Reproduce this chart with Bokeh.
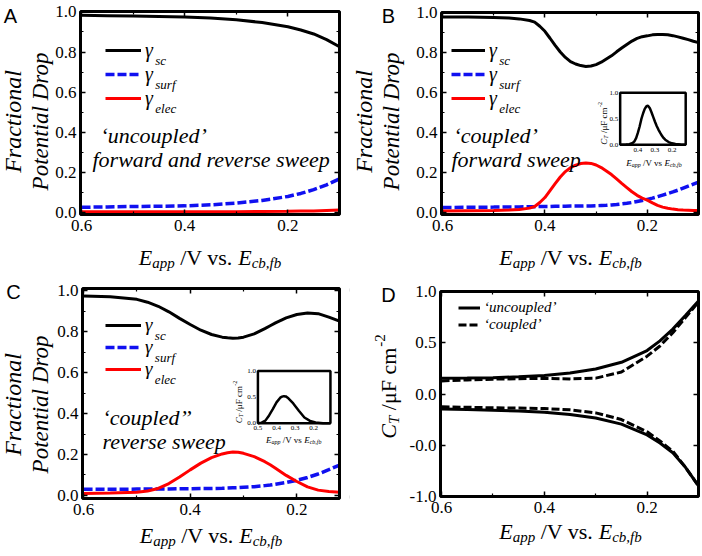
import math
from bokeh.plotting import figure
from bokeh.models import Range1d, Label, Legend, LegendItem, FixedTicker, LinearAxis, BoxAnnotation
from bokeh.layouts import row, column
from bokeh.core.properties import value
from bokeh.embed import file_html
from bokeh.resources import INLINE

SERIF = "Liberation Serif"
SANS = "Liberation Sans"
BLUE = "#1010f0"
RED = "#ff0000"

# ---------------- data ----------------
# Panel A : uncoupled
xa = [0.6, 0.55, 0.5, 0.45, 0.4, 0.35, 0.3, 0.25, 0.2, 0.175, 0.15, 0.125, 0.1]
sc_a = [0.983, 0.981, 0.979, 0.977, 0.975, 0.969, 0.961, 0.947, 0.926, 0.910, 0.890, 0.862, 0.826]
surf_a = [0.026, 0.028, 0.030, 0.031, 0.033, 0.038, 0.047, 0.060, 0.080, 0.095, 0.114, 0.138, 0.168]
elec_a = [0.004, 0.004, 0.004, 0.004, 0.004, 0.004, 0.004, 0.005, 0.006, 0.007, 0.008, 0.010, 0.012]

# Panel B : coupled forward
xb = [0.6, 0.55, 0.5, 0.47, 0.45, 0.43, 0.42, 0.41, 0.4, 0.39, 0.38, 0.37, 0.36, 0.35,
      0.34, 0.33, 0.32, 0.31, 0.3, 0.29, 0.28, 0.27, 0.26, 0.25, 0.24, 0.23, 0.22, 0.21,
      0.2, 0.19, 0.18, 0.17, 0.16, 0.15, 0.14, 0.13, 0.12, 0.11, 0.1]
sc_b = [0.980, 0.979, 0.977, 0.974, 0.970, 0.962, 0.954, 0.933, 0.908, 0.873, 0.837, 0.804,
        0.777, 0.756, 0.744, 0.736, 0.732, 0.734, 0.741, 0.753, 0.769, 0.785, 0.805, 0.824,
        0.842, 0.859, 0.872, 0.881, 0.885, 0.890, 0.892, 0.892, 0.890, 0.886, 0.880, 0.873,
        0.866, 0.858, 0.851]
elec_b = [0.008, 0.009, 0.010, 0.012, 0.015, 0.022, 0.030, 0.050, 0.075, 0.110, 0.145, 0.178,
          0.205, 0.225, 0.237, 0.245, 0.248, 0.246, 0.238, 0.225, 0.208, 0.190, 0.168, 0.146,
          0.125, 0.104, 0.086, 0.072, 0.062, 0.048, 0.036, 0.027, 0.021, 0.017, 0.014, 0.012,
          0.011, 0.010, 0.010]
surf_b = [0.025, 0.026, 0.027, 0.028, 0.028, 0.029, 0.029, 0.030, 0.030, 0.030, 0.031, 0.031,
          0.031, 0.032, 0.032, 0.032, 0.033, 0.033, 0.034, 0.035, 0.036, 0.038, 0.040, 0.043,
          0.046, 0.050, 0.055, 0.060, 0.066, 0.072, 0.079, 0.087, 0.095, 0.103, 0.112, 0.122,
          0.132, 0.142, 0.152]

# Panel C : coupled reverse
xc = [0.6, 0.55, 0.5, 0.48, 0.46, 0.44, 0.42, 0.4, 0.38, 0.36, 0.34, 0.33, 0.32, 0.31,
      0.3, 0.28, 0.26, 0.25, 0.24, 0.22, 0.2, 0.18, 0.16, 0.14, 0.12]
sc_c = [0.975, 0.972, 0.959, 0.945, 0.925, 0.898, 0.866, 0.836, 0.808, 0.787, 0.774, 0.771,
        0.769, 0.770, 0.774, 0.790, 0.816, 0.830, 0.844, 0.868, 0.885, 0.892, 0.889, 0.872,
        0.852]
elec_c = [0.010, 0.012, 0.016, 0.022, 0.034, 0.058, 0.090, 0.125, 0.158, 0.185, 0.203, 0.209,
          0.212, 0.211, 0.206, 0.190, 0.165, 0.150, 0.133, 0.098, 0.068, 0.042, 0.026, 0.019,
          0.016]
surf_c = [0.030, 0.030, 0.031, 0.031, 0.032, 0.032, 0.033, 0.033, 0.034, 0.034, 0.035, 0.036,
          0.037, 0.038, 0.040, 0.043, 0.048, 0.051, 0.055, 0.063, 0.074, 0.088, 0.105, 0.126,
          0.148]

# Panel D : total capacitance
xd = [0.6, 0.55, 0.5, 0.45, 0.4, 0.35, 0.3, 0.25, 0.2, 0.175, 0.15, 0.125, 0.1]
unc_up = [0.153, 0.156, 0.160, 0.168, 0.182, 0.205, 0.245, 0.310, 0.425, 0.520, 0.635, 0.770, 0.910]
unc_lo = [-0.148, -0.152, -0.158, -0.166, -0.178, -0.200, -0.235, -0.295, -0.400, -0.480, -0.575, -0.720, -0.900]
cou_up = [0.128, 0.138, 0.145, 0.150, 0.152, 0.148, 0.155, 0.215, 0.370, 0.470, 0.600, 0.750, 0.900]
cou_lo = [-0.125, -0.130, -0.135, -0.138, -0.142, -0.155, -0.185, -0.250, -0.370, -0.460, -0.560, -0.720, -0.900]

# Insets (C_T vs E_app)
xib = [0.5, 0.47, 0.45, 0.43, 0.42, 0.41, 0.4, 0.39, 0.38, 0.37, 0.36, 0.35, 0.345, 0.34,
       0.33, 0.32, 0.31, 0.3, 0.29, 0.28, 0.27, 0.26, 0.25, 0.24, 0.22, 0.2, 0.18, 0.15, 0.12]
yib = [0.0, 0.003, 0.010, 0.035, 0.065, 0.13, 0.23, 0.35, 0.49, 0.60, 0.69, 0.74, 0.75, 0.745,
       0.70, 0.62, 0.53, 0.44, 0.36, 0.29, 0.23, 0.175, 0.13, 0.095, 0.05, 0.025, 0.012, 0.004, 0.0]
xic = [0.5, 0.48, 0.46, 0.44, 0.42, 0.4, 0.38, 0.37, 0.36, 0.35, 0.34, 0.31, 0.28, 0.25,
       0.22, 0.19, 0.15, 0.11]
yic = [0.0, 0.012, 0.05, 0.15, 0.27, 0.40, 0.49, 0.51, 0.52, 0.515, 0.49, 0.38, 0.24, 0.11,
       0.045, 0.015, 0.0, 0.0]

# ticks
x_ticks = [0.6, 0.4, 0.2]
x_tick_labels = ["0.6", "0.4", "0.2"]
x_minor = [0.5, 0.3, 0.1]
y_ticks = [0.0, 0.2, 0.4, 0.6, 0.8, 1.0]
y_tick_labels = ["0.0", "0.2", "0.4", "0.6", "0.8", "1.0"]
y_minor = [0.1, 0.3, 0.5, 0.7, 0.9]
d_y_ticks = [-1.0, -0.5, 0.0, 0.5, 1.0]
d_y_tick_labels = ["-1.0", "-0.0", "0.0", "0.5", "1.0"]
inset_y_ticks = [0.0, 0.5, 1.0]
inset_y_labels = ["0.0", "0.5", "1.0"]
inset_b_x_ticks = [0.4, 0.3, 0.2]
inset_b_x_labels = ["0.4", "0.3", "0.2"]
inset_c_x_ticks = [0.5, 0.4, 0.3, 0.2]
inset_c_x_labels = ["0.5", "0.4", "0.3", "0.2"]

# ---------------- text helpers ----------------
W_REG = {' ': 250, '/': 278, 'V': 722, 'v': 500, 's': 389, '.': 250, 'μ': 576, 'F': 556,
         'c': 444, 'm': 778, '-': 333, '2': 500, ',': 250}
W_ITA = {'E': 611, 'a': 500, 'p': 500, 'c': 444, 'b': 500, ',': 250, 'f': 278, 'C': 667,
         'T': 556, 'γ': 440, 's': 389, 'u': 500, 'r': 389, 'e': 444, 'l': 278, ' ': 250}


def text_width(s, size, italic):
    tbl = W_ITA if italic else W_REG
    return sum(tbl.get(ch, 500) for ch in s) / 1000.0 * size


class Panel:
    """A figure whose frame fills the whole canvas; the plot box is drawn inside it."""

    def __init__(self, ox, oy, W, H, box, xr, yr, yt, ytl, ym):
        self.ox, self.oy, self.W, self.H = ox, oy, W, H
        bl, br, bt, bb = box
        ul, ur, vt, vb = bl - ox, br - ox, bt - oy, bb - oy

        def x_at(u):
            return xr[0] + (u - ul) * (xr[1] - xr[0]) / (ur - ul)

        def y_at(v):
            return yr[1] + (v - vt) * (yr[0] - yr[1]) / (vb - vt)

        self.ul, self.ur, self.vt, self.vb = ul, ur, vt, vb
        self.xr, self.yr = xr, yr
        p = figure(width=W, height=H, x_range=Range1d(x_at(0), x_at(W)),
                   y_range=Range1d(y_at(H), y_at(0)), output_backend="svg",
                   toolbar_location=None, min_border=0)
        p.grid.visible = False
        p.outline_line_color = None
        p.background_fill_color = "white"
        p.border_fill_color = "white"
        self.p = p
        bottom, left = p.xaxis[0], p.yaxis[0]
        top, right = LinearAxis(), LinearAxis()
        p.add_layout(top, "above")
        p.add_layout(right, "right")
        self.style_axis(bottom, x_ticks, x_minor, x_tick_labels, yr[0], 5)
        self.style_axis(left, yt, ym, ytl, xr[0], 4)
        self.style_axis(top, x_ticks, x_minor, None, yr[1], 4)
        self.style_axis(right, yt, ym, None, xr[1], 4)
        p.add_layout(BoxAnnotation(left=xr[0], right=xr[1], bottom=yr[0], top=yr[1],
                                   fill_color=None, fill_alpha=0, line_color="black",
                                   line_width=3, line_alpha=1))

    @staticmethod
    def style_axis(ax, ticks, minor, labels, loc, standoff):
        ax.fixed_location = loc
        ax.ticker = FixedTicker(ticks=ticks, minor_ticks=minor)
        ax.axis_line_color = None
        ax.major_tick_in = 5
        ax.major_tick_out = 0
        ax.minor_tick_in = 3
        ax.minor_tick_out = 0
        ax.major_tick_line_width = 1.5
        ax.minor_tick_line_width = 1.2
        ax.major_tick_line_color = "black"
        ax.minor_tick_line_color = "black"
        ax.major_label_text_font = SERIF
        ax.major_label_text_font_size = "17px"
        ax.major_label_text_color = "black"
        ax.major_label_standoff = standoff
        if labels is not None:
            ax.major_label_overrides = {float(t): l for t, l in zip(ticks, labels)}
        else:
            ax.major_label_overrides = {float(t): "" for t in ticks}

    def sx(self, px):
        return px - self.ox

    def sy(self, py):
        return self.H - (py - self.oy)

    def dx(self, x):
        return self.ul + (x - self.xr[0]) * (self.ur - self.ul) / (self.xr[1] - self.xr[0])

    def dy(self, y):
        return self.H - (self.vb + (y - self.yr[0]) * (self.vt - self.vb) / (self.yr[1] - self.yr[0]))

    def text(self, x, y, text, size, italic=False, align="left", baseline="alphabetic",
             angle=0.0, font=SERIF):
        self.p.add_layout(Label(x=x, y=y, x_units="screen", y_units="screen", text=text,
                                text_font=font, text_font_size=f"{size}px",
                                text_font_style="italic" if italic else "normal",
                                text_align=align, text_baseline=baseline, angle=angle,
                                text_color="black"))

    def rich(self, x, y, parts, angle=0.0, center=False):
        total = sum(text_width(t, s, it) for t, s, it, dy in parts)
        c, s_ = math.cos(angle), math.sin(angle)
        pos = -total / 2 if center else 0.0
        for t, size, it, dy in parts:
            lead = len(t) - len(t.lstrip(' '))
            q = pos + text_width(' ' * lead, size, it)
            if t.strip():
                self.text(x + q * c + dy * s_, y + q * s_ - dy * c, t.strip(), size, it, angle=angle)
            pos += text_width(t, size, it)

    def gamma_legend(self, rends, subs, line_x0, rows_y, glyph_w, row_h, gsize):
        items = [LegendItem(label="γ", renderers=[r]) for r in rends]
        vy = self.sy(rows_y[-1] + row_h / 2)
        lg = Legend(items=items, location=(self.sx(line_x0), vy), orientation="vertical",
                    glyph_width=glyph_w, glyph_height=row_h, label_height=row_h,
                    label_width=5, label_standoff=4, spacing=0, padding=0, margin=0,
                    border_line_color=None, background_fill_alpha=0,
                    label_text_font=SERIF, label_text_font_style="italic",
                    label_text_font_size=f"{gsize}px", label_text_color="black")
        self.p.add_layout(lg)
        gx = self.sx(line_x0) + glyph_w + 4 + text_width("γ", gsize, True) + 1
        for ry, sub in zip(rows_y, subs):
            self.text(gx, self.sy(ry) - 10, sub, 13, True)

    def frac_label(self, px1, px2, py):
        self.text(self.sx(px1), self.sy(py), "Fractional", 24, True, align="center",
                  baseline="middle", angle=math.pi / 2)
        self.text(self.sx(px2), self.sy(py), "Potential Drop", 23, True, align="center",
                  baseline="middle", angle=math.pi / 2)

    def inset(self, xs, ys, xt, yt, x, y, xtk, xtl, ytk, ytl):
        sub = self.p.subplot(x_source=Range1d(*xs), y_source=Range1d(*ys),
                             x_target=Range1d(*xt), y_target=Range1d(*yt))
        sub.quad(left=[xs[0]], right=[xs[1]], bottom=[ys[0]], top=[ys[1]],
                 fill_color="white", line_color="black", line_width=2.5)
        sub.line(x, y, line_color="black", line_width=2.5)
        sub.text(x=xtk, y=[ys[0]] * len(xtk), text=xtl, text_font=value(SERIF),
                 text_font_size="7px", text_align="center", text_baseline="top", y_offset=3,
                 text_color="black")
        sub.text(x=[xs[0]] * len(ytk), y=ytk, text=ytl, text_font=value(SERIF),
                 text_font_size="7px", text_align="right", text_baseline="middle", x_offset=-2,
                 text_color="black")
        return self.dx(xt[0]), self.dy(yt[0])


def xlabel_parts(big, small, sh, sep=" /V vs. "):
    return [("E", big, True, 0), ("app", small, True, sh), (sep, big, False, 0),
            ("E", big, True, 0), ("cb,fb", small, True, sh)]


def ct_parts(big, small, sh, sup):
    return [("C", big, True, 0), ("T", small, True, sh), (" /μF cm", big, False, 0),
            ("-2", small, False, -sup)]


# ---------------- Panel A ----------------
A = Panel(0, 0, 350, 277, (80, 339, 11, 214), (0.602, 0.1), (-0.01, 1.002),
          y_ticks, y_tick_labels, y_minor)
ra1 = A.p.line(xa, sc_a, line_color="black", line_width=3)
ra2 = A.p.line(xa, surf_a, line_color=BLUE, line_width=3.5, line_dash="9 3")
ra3 = A.p.line(xa, elec_a, line_color=RED, line_width=3)
A.gamma_legend([ra1, ra2, ra3], ["sc", "surf", "elec"], 105, [50, 74, 98], 36, 24, 20)
A.text(A.sx(100), A.sy(135), "‘uncoupled’", 22, True)
A.text(A.sx(92), A.sy(159), "forward and reverse sweep", 22, True)
A.rich(A.sx(209.5), A.sy(257), xlabel_parts(22, 15, 5), center=True)
A.frac_label(12, 40, 121)
A.text(A.sx(10), A.sy(15), "A", 20, False, align="center", baseline="middle", font=SANS)

# ---------------- Panel B ----------------
B = Panel(350, 0, 350, 277, (441, 698, 12, 214), (0.602, 0.1), (-0.01, 1.002),
          y_ticks, y_tick_labels, y_minor)
rb1 = B.p.line(xb, sc_b, line_color="black", line_width=3)
rb2 = B.p.line(xb, surf_b, line_color=BLUE, line_width=3.5, line_dash="9 3")
rb3 = B.p.line(xb, elec_b, line_color=RED, line_width=3)
B.gamma_legend([rb1, rb2, rb3], ["sc", "surf", "elec"], 451, [50, 74, 98], 34, 24, 20)
B.text(B.sx(453), B.sy(135), "‘coupled’", 22, True)
B.text(B.sx(451), B.sy(159), "forward sweep", 22, True)
B.rich(B.sx(570), B.sy(257), xlabel_parts(22, 15, 5), center=True)
B.frac_label(363, 391, 121)
B.text(B.sx(388), B.sy(15), "B", 20, False, align="center", baseline="middle", font=SANS)
bl, bb = B.inset((0.504, 0.12), (0.0, 1.0), (0.253, 0.125), (0.34, 0.60), xib, yib,
                 inset_b_x_ticks, inset_b_x_labels, inset_y_ticks, inset_y_labels)
B.rich(bl - 16, bb, ct_parts(9, 6, 2, 4), angle=math.pi / 2)
B.rich(bl + 6, bb - 18, xlabel_parts(9, 6, 2, sep=" /V vs "))

# ---------------- Panel C ----------------
C = Panel(0, 277, 350, 277, (82, 339, 288, 498), (0.602, 0.12), (-0.015, 1.012),
          y_ticks, y_tick_labels, y_minor)
rc1 = C.p.line(xc, sc_c, line_color="black", line_width=3)
rc2 = C.p.line(xc, surf_c, line_color=BLUE, line_width=3.5, line_dash="9 3")
rc3 = C.p.line(xc, elec_c, line_color=RED, line_width=3)
C.gamma_legend([rc1, rc2, rc3], ["sc", "surf", "elec"], 105, [325, 347, 369], 36, 22, 19)
C.text(C.sx(102), C.sy(417), "‘coupled’’", 22, True)
C.text(C.sx(102), C.sy(441), "reverse sweep", 22, True)
C.rich(C.sx(210.5), C.sy(535), xlabel_parts(22, 15, 5), center=True)
C.frac_label(12, 40, 404)
C.text(C.sx(13), C.sy(291), "C", 20, False, align="center", baseline="middle", font=SANS)
cl, cb = C.inset((0.5, 0.11), (0.0, 1.0), (0.273, 0.137), (0.353, 0.608), xic, yic,
                 inset_c_x_ticks, inset_c_x_labels, inset_y_ticks, inset_y_labels)
C.rich(cl - 19, cb, ct_parts(9, 6, 2, 4), angle=math.pi / 2)
C.rich(cl + 8, cb - 17, xlabel_parts(9, 6, 2, sep=" /V vs "))

# ---------------- Panel D ----------------
D = Panel(350, 277, 350, 277, (440, 698, 291, 496), (0.602, 0.1), (-1.003, 1.003),
          d_y_ticks, d_y_tick_labels, [])
rd1 = D.p.line(xd, unc_up, line_color="black", line_width=3)
D.p.line(xd, unc_lo, line_color="black", line_width=3)
rd2 = D.p.line(xd, cou_up, line_color="black", line_width=3, line_dash="8 3")
D.p.line(xd, cou_lo, line_color="black", line_width=3, line_dash="8 3")
lgD = Legend(items=[LegendItem(label="‘uncoupled’", renderers=[rd1]),
                    LegendItem(label="‘coupled’", renderers=[rd2])],
             location=(D.sx(458), D.sy(333)), orientation="vertical", glyph_width=22,
             glyph_height=15, label_height=15, label_standoff=4, spacing=0, padding=0,
             margin=0, border_line_color=None, background_fill_alpha=0,
             label_text_font=SERIF, label_text_font_style="italic",
             label_text_font_size="15px", label_text_color="black")
D.p.add_layout(lgD)
D.rich(D.sx(570), D.sy(531), xlabel_parts(22, 15, 5), center=True)
D.rich(D.sx(388), D.sy(386), ct_parts(22, 15, 5, 9), angle=math.pi / 2, center=True)
D.text(D.sx(388), D.sy(294), "D", 20, False, align="center", baseline="middle", font=SANS)

layout = column(row(A.p, B.p), row(C.p, D.p))
open("out.html", "w").write(file_html(layout, INLINE))
